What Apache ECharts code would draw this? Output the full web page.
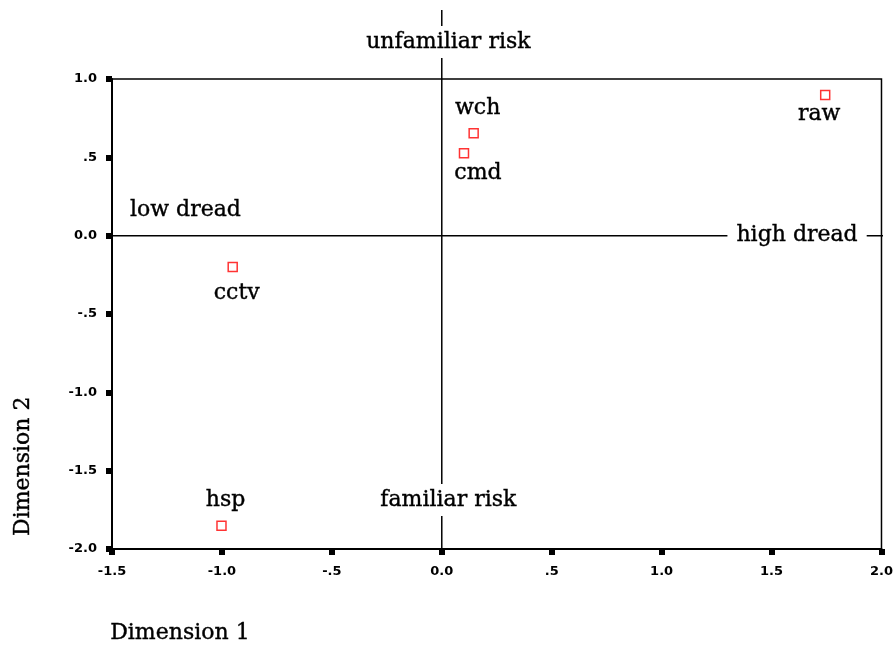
<!DOCTYPE html>
<html>
<head>
<meta charset="utf-8">
<script src="https://cdn.jsdelivr.net/npm/echarts@6/dist/echarts.min.js"></script>
<style>
  html, body { margin: 0; padding: 0; background: #fff; }
  #chart { width: 896px; height: 651px; }
</style>
</head>
<body>
<div id="chart"></div>
<script>
// Risk items placed on the two MDS dimensions
const items = ['raw', 'wch', 'cmd', 'cctv', 'hsp'];
const dimension1 = [1.744, 0.145, 0.101, -0.951, -1.002];
const dimension2 = [0.898, 0.653, 0.526, -0.200, -1.851];

// Axis tick labels (SPSS style, leading zero dropped for .5)
const xTickLabels = ['-1.5', '-1.0', '-.5', '0.0', '.5', '1.0', '1.5', '2.0'];
const yTickLabels = ['-2.0', '-1.5', '-1.0', '-.5', '0.0', '.5', '1.0'];

// Pole labels of the two dimensions
const poleNames = ['unfamiliar risk', 'familiar risk', 'low dread', 'high dread'];
const poleX = [0.03, 0.03, -1.166, 1.616];
const poleY = [1.236, -1.687, 0.164, 0.0];

// Reference lines through the origin
const dreadLine = [[-1.5, 0], [2.01, 0]];
const familiarityLine = [[0, -2.0], [0, 1.44]];

const X_MIN = -1.5, X_MAX = 2.0, Y_MIN = -2.0, Y_MAX = 1.0, STEP = 0.5;

const labelFont = {
  fontFamily: 'DejaVu Serif', fontSize: 22, color: '#000000', opacity: 1,
  textBorderColor: '#000000', textBorderWidth: 0.4, textShadowBlur: 0
};

// where each item's name sits relative to its marker
const itemLabelOffset = {
  raw:  [-6, 19],
  wch:  [4, -25],
  cmd:  [14, 20],
  cctv: [4, 26],
  hsp:  [4, -25]
};

function tickText(labels, min) {
  return function (v) {
    const i = Math.round((v - min) / STEP);
    return labels[i] !== undefined ? labels[i] : '';
  };
}

const chart = echarts.init(document.getElementById('chart'), null, { renderer: 'canvas' });

const tickFont = { fontFamily: 'DejaVu Sans', fontSize: 13, fontWeight: 'bold', color: '#000' };

const axisCommon = {
  interval: STEP,
  splitLine: { show: false },
  axisLine: { show: true, onZero: false, lineStyle: { color: '#000', width: 2 } },
  axisTick: { show: true, inside: false, length: 6, lineStyle: { color: '#000', width: 6 } }
};

const titleStyle = {
  font: '22px "DejaVu Serif"', fill: '#000', stroke: '#000', lineWidth: 0.4
};

chart.setOption({
  animation: false,
  backgroundColor: '#fff',
  grid: {
    left: 112, right: 11, top: 79, bottom: 102,
    show: true, borderColor: '#000', borderWidth: 1.5, backgroundColor: 'transparent'
  },
  xAxis: Object.assign({}, axisCommon, {
    type: 'value', min: X_MIN, max: X_MAX,
    axisLabel: Object.assign({}, tickFont, { margin: 16, formatter: tickText(xTickLabels, X_MIN) })
  }),
  yAxis: Object.assign({}, axisCommon, {
    type: 'value', min: Y_MIN, max: Y_MAX,
    axisLabel: Object.assign({}, tickFont, { margin: 15, formatter: tickText(yTickLabels, Y_MIN) })
  }),
  graphic: [
    {
      type: 'text', left: 110, top: 622,
      style: Object.assign({ text: 'Dimension 1' }, titleStyle)
    },
    {
      type: 'text', x: 12, y: 536, rotation: Math.PI / 2,
      style: Object.assign({ text: 'Dimension 2' }, titleStyle)
    }
  ],
  series: [
    {
      name: 'dread',
      type: 'line', clip: false, silent: true, z: 2,
      showSymbol: false, symbol: 'none',
      lineStyle: { color: '#000', width: 1.5 },
      data: dreadLine
    },
    {
      name: 'familiarity',
      type: 'line', clip: false, silent: true, z: 2,
      showSymbol: false, symbol: 'none',
      lineStyle: { color: '#000', width: 1.5 },
      data: familiarityLine
    },
    {
      name: 'poles',
      type: 'scatter', clip: false, silent: true, z: 5,
      symbolSize: 0,
      data: poleNames.map((n, i) => ({ name: n, value: [poleX[i], poleY[i]] })),
      label: Object.assign({
        show: true, position: 'inside', formatter: '{b}',
        backgroundColor: '#fff', padding: [5, 9]
      }, labelFont)
    },
    {
      name: 'items',
      type: 'scatter', clip: false, z: 6,
      symbol: 'rect', symbolSize: 9,
      itemStyle: { color: '#fff', borderColor: '#ff0000', borderWidth: 1.5 },
      data: items.map((n, i) => ({
        name: n,
        value: [dimension1[i], dimension2[i]],
        label: { offset: itemLabelOffset[n] }
      })),
      label: Object.assign({ show: true, position: 'inside', formatter: '{b}' }, labelFont)
    }
  ]
});
</script>
</body>
</html>
